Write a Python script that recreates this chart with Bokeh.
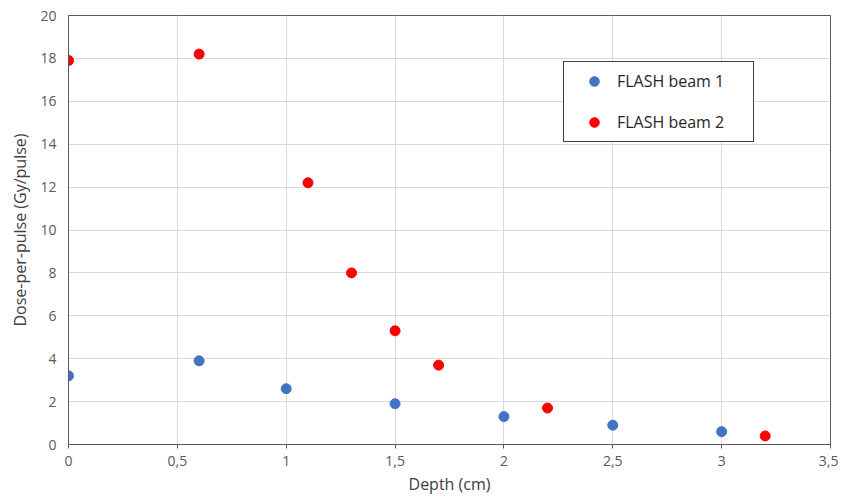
from bokeh.plotting import figure
from bokeh.models import Range1d, FixedTicker, Legend, LegendItem, ColumnDataSource
from bokeh.embed import file_html
from bokeh.resources import INLINE

# Data
beam1_depth = [0, 0.6, 1.0, 1.5, 2.0, 2.5, 3.0]
beam1_dose = [3.2, 3.9, 2.6, 1.9, 1.3, 0.9, 0.6]
beam2_depth = [0, 0.6, 1.1, 1.3, 1.5, 1.7, 2.2, 3.2]
beam2_dose = [17.9, 18.2, 12.2, 8.0, 5.3, 3.7, 1.7, 0.4]

x_ticks = [0, 0.5, 1, 1.5, 2, 2.5, 3, 3.5]
x_tick_labels = ["0", "0,5", "1", "1,5", "2", "2,5", "3", "3,5"]
y_ticks = [0, 2, 4, 6, 8, 10, 12, 14, 16, 18, 20]
y_tick_labels = ["0", "2", "4", "6", "8", "10", "12", "14", "16", "18", "20"]

series_names = ["FLASH beam 1", "FLASH beam 2"]
series_colors = ["#4472C4", "#FF0000"]

FONT = "Open Sans"

p = figure(width=838, height=497, output_backend="svg", toolbar_location=None,
           x_range=Range1d(0, 3.5), y_range=Range1d(0, 20),
           min_border_left=68, min_border_right=8, min_border_top=15, min_border_bottom=10)

p.background_fill_color = "white"
p.border_fill_color = "white"
p.outline_line_color = "#595959"
p.outline_line_width = 1

# Axes
p.xaxis.ticker = FixedTicker(ticks=x_ticks)
p.yaxis.ticker = FixedTicker(ticks=y_ticks)
p.xaxis.major_label_overrides = {t: l for t, l in zip(x_ticks, x_tick_labels)}
p.yaxis.major_label_overrides = {t: l for t, l in zip(y_ticks, y_tick_labels)}
p.xaxis.axis_label = "Depth (cm)"
p.yaxis.axis_label = "Dose-per-pulse (Gy/pulse)"

for ax in (p.xaxis[0], p.yaxis[0]):
    ax.axis_line_color = "#595959"
    ax.axis_line_width = 1
    ax.major_label_text_font = FONT
    ax.major_label_text_font_size = "14px"
    ax.major_label_text_color = "#595959"
    ax.axis_label_text_font = FONT
    ax.axis_label_text_font_size = "16px"
    ax.axis_label_text_font_style = "normal"
    ax.axis_label_text_color = "#404040"
    ax.minor_tick_line_color = None
    ax.major_tick_in = 0

p.xaxis.major_tick_out = 4
p.xaxis.major_tick_line_color = "#595959"
p.xaxis.major_label_standoff = 7
p.xaxis.axis_label_standoff = 4
p.yaxis.major_tick_out = 0
p.yaxis.major_tick_line_color = None
p.yaxis.major_label_standoff = 12
p.yaxis.axis_label_standoff = 6

p.xgrid.grid_line_color = "#d9d9d9"
p.ygrid.grid_line_color = "#d9d9d9"
p.xgrid.grid_line_width = 1
p.ygrid.grid_line_width = 1

src1 = ColumnDataSource(dict(x=beam1_depth, y=beam1_dose))
src2 = ColumnDataSource(dict(x=beam2_depth, y=beam2_dose))
r1 = p.scatter("x", "y", source=src1, size=10, fill_color=series_colors[0], line_color=series_colors[0])
r2 = p.scatter("x", "y", source=src2, size=10, fill_color=series_colors[1], line_color=series_colors[1])

legend = Legend(items=[LegendItem(label=series_names[0], renderers=[r1]),
                       LegendItem(label=series_names[1], renderers=[r2])],
                location=(495, 302))
legend.border_line_color = "#404040"
legend.border_line_width = 1
legend.border_line_alpha = 1
legend.background_fill_color = "white"
legend.background_fill_alpha = 1
legend.padding = 7
legend.spacing = 17
legend.margin = 0
legend.glyph_height = 24
legend.glyph_width = 46
legend.label_height = 24
legend.label_width = 129
legend.label_standoff = 0
legend.label_text_font = FONT
legend.label_text_font_size = "16px"
legend.label_text_color = "#262626"
p.add_layout(legend, "center")

open("out.html", "w").write(file_html(p, INLINE))
